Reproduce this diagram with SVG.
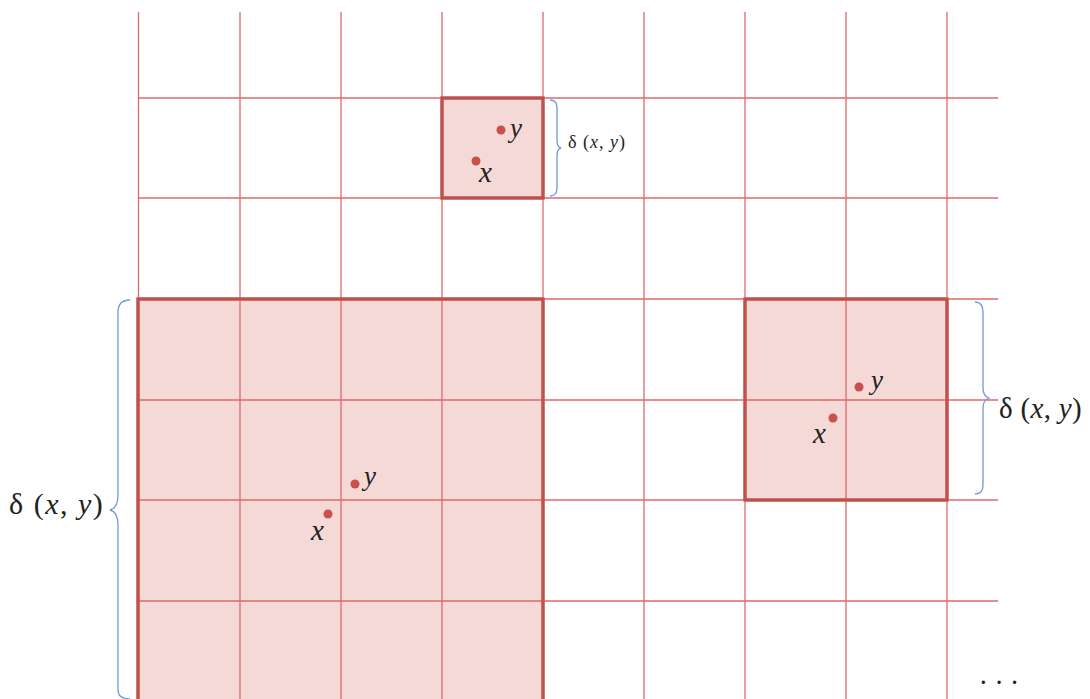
<svg xmlns="http://www.w3.org/2000/svg" width="1090" height="699" viewBox="0 0 1090 699">
<style>
.grid{stroke:#de6a6a;stroke-width:1.3;fill:none}
.box{stroke:#c0504d;stroke-width:3;fill:#f4d9d7}
.dot{fill:#c9504d}
.brace{stroke:#6f9bd6;stroke-width:1.3;fill:none}
.m{font-family:'Liberation Serif','DejaVu Serif',serif;font-style:italic;fill:#222}
.r{font-family:'Liberation Serif','DejaVu Serif',serif;fill:#222}
</style>
<rect width="1090" height="699" fill="#fff"/>
<g id="boxes">
<rect id="box-top" class="box" x="442" y="98" width="101" height="100"/>
<rect id="box-big" class="box" x="138" y="299" width="405" height="410"/>
<rect id="box-right" class="box" x="745" y="299" width="202" height="201"/>
</g>
<g id="grid">
<path class="grid" d="M138.5 12V699M240 12V699M341 12V699M442 12V699M543 12V699M644 12V699M745 12V699M846 12V699M947 12V699"/>
<path class="grid" d="M138 98H998M138 198H998M138 299H998M138 400H998M138 500H998M138 601H998"/>
</g>
<g id="boxes-outline" fill="none" stroke="#c0504d" stroke-width="3">
<rect x="442" y="98" width="101" height="100"/>
<rect x="138" y="299" width="405" height="410"/>
<rect x="745" y="299" width="202" height="201"/>
</g>
<g id="pair-top">
<circle class="dot" cx="501" cy="130" r="4.5"/>
<circle class="dot" cx="476" cy="161" r="4.5"/>
<text class="m" x="510" y="137" font-size="27">y</text>
<text class="m" x="479" y="182" font-size="29">x</text>
</g>
<g id="pair-big">
<circle class="dot" cx="355" cy="484" r="4.5"/>
<circle class="dot" cx="328" cy="514" r="4.5"/>
<text class="m" x="364" y="485" font-size="27">y</text>
<text class="m" x="311" y="540" font-size="29">x</text>
</g>
<g id="pair-right">
<circle class="dot" cx="859" cy="387" r="4.5"/>
<circle class="dot" cx="833" cy="418" r="4.5"/>
<text class="m" x="871" y="389" font-size="27">y</text>
<text class="m" x="813" y="443" font-size="29">x</text>
</g>
<g id="connectors">
<path class="brace" d="M550 100Q557 100 557 108V140Q557 147 561 148Q557 149 557 156V188Q557 196 550 196"/>
<path class="brace" d="M130 300Q118 300 118 312V495Q118 508 110 510Q118 512 118 525V690Q118 699 130 699"/>
<path class="brace" d="M975 302Q983 302 983 312V388Q983 396 989 398Q983 400 983 408V485Q983 494 975 494"/>
</g>
<g id="labels">
<text class="r" x="568" y="148" font-size="18" letter-spacing="1">δ (<tspan class="m">x</tspan>, <tspan class="m">y</tspan>)</text>
<text class="r" x="9" y="514" font-size="30" letter-spacing="1.5">δ (<tspan class="m">x</tspan>, <tspan class="m">y</tspan>)</text>
<text class="r" x="999" y="418" font-size="29" letter-spacing="0.3">δ (<tspan class="m">x</tspan>, <tspan class="m">y</tspan>)</text>
<text class="r" x="980" y="689" font-size="20" font-weight="bold" letter-spacing="2">· · ·</text>
</g>
</svg>
